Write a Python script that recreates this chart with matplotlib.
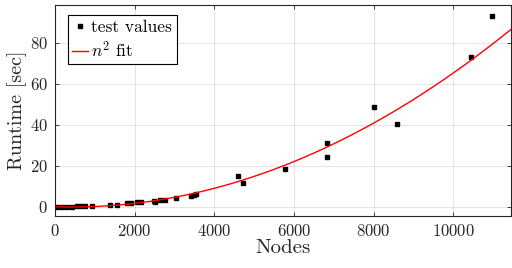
import numpy as np
import matplotlib
matplotlib.use("Agg")
import matplotlib.pyplot as plt

nodes = [42, 167, 292, 418, 559, 659, 759, 918,
         1380, 1545, 1796, 1905, 2063, 2147,
         2480, 2520, 2640, 2750, 3030,
         3420, 3500, 3550, 4587, 4729, 5772,
         6834, 6834, 8020, 8590, 10450, 10970]
runtime = [0.1, 0.1, 0.1, 0.1, 0.2, 0.2, 0.3, 0.4,
           0.9, 1.1, 1.6, 1.9, 2.1, 2.1,
           3.0, 2.5, 3.4, 3.5, 4.4,
           5.1, 5.8, 6.0, 15.0, 11.4, 18.4,
           30.9, 24.4, 48.5, 40.2, 72.9, 93.2]

# quadratic fit coefficients (a*n^2 + b*n + c)
fit_coeffs = [0.712e-6, -0.598e-3, 0.0]

x_ticks = [0, 2000, 4000, 6000, 8000, 10000]
y_ticks = [0, 20, 40, 60, 80]
x_lim = (0, 11450)
y_lim = (-4.5, 98.4)

plt.rcParams['font.family'] = 'serif'
plt.rcParams['font.serif'] = ['cmr10']
plt.rcParams['mathtext.fontset'] = 'cm'
plt.rcParams['axes.formatter.use_mathtext'] = True

fig = plt.figure(figsize=(5.12, 2.68), dpi=100)
ax = fig.add_axes([55 / 512, 1 - 216 / 268, 456 / 512, 211 / 268])

xs = np.linspace(x_lim[0], x_lim[1], 300)
ax.plot(nodes, runtime, 's', color='black', markersize=3.2, label='test values')
ax.plot(xs, np.polyval(fit_coeffs, xs), color='red', lw=1.0, label=r'$n^2$ fit')

ax.set_xlim(*x_lim)
ax.set_ylim(*y_lim)
ax.set_xticks(x_ticks)
ax.set_yticks(y_ticks)
ax.grid(True, color='black', alpha=0.1, lw=0.8)
ax.set_axisbelow(True)
ax.tick_params(direction='in', top=True, right=True, length=3, width=0.6,
               labelsize=12, colors='0.15', labelcolor='0.15', pad=5)
for s in ax.spines.values():
    s.set_color('0.15')
    s.set_linewidth(0.8)

ax.set_xlabel('Nodes', fontsize=15, color='0.15', labelpad=0)
ax.set_ylabel('Runtime [sec]', fontsize=14.5, color='0.15', labelpad=2)

# legend box placed by its top-left corner
leg = ax.legend(loc='upper left', bbox_to_anchor=(13 / 456, 1 - 10 / 211),
                borderaxespad=0, fontsize=12.5, frameon=True, fancybox=False,
                edgecolor='black', framealpha=1, borderpad=0.25, labelspacing=0.3,
                handlelength=0.9, handletextpad=0.2)
leg.get_frame().set_linewidth(0.8)

fig.savefig('out.png', dpi=100)
